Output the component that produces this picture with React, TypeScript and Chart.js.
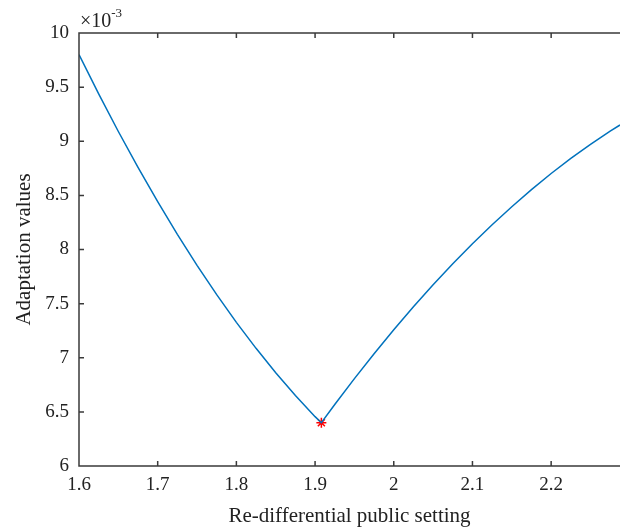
import React, { useEffect, useRef } from "react";
import { Chart, registerables } from "chart.js";

Chart.register(...registerables);

// x values (Re-differential public setting)
const X_VALUES = [
  1.6, 1.625, 1.65, 1.675, 1.7, 1.725, 1.75, 1.775, 1.8, 1.825, 1.85, 1.875, 1.9, 1.908,
  1.925, 1.95, 1.975, 2.0, 2.025, 2.05, 2.075, 2.1, 2.125, 2.15, 2.175, 2.2, 2.225, 2.25, 2.275, 2.2875,
];
// adaptation values, in units of 1e-3
const Y_VALUES = [
  9.8, 9.438, 9.09, 8.759, 8.442, 8.14, 7.854, 7.583, 7.327, 7.087, 6.861, 6.651, 6.456, 6.4,
  6.568, 6.807, 7.037, 7.259, 7.471, 7.674, 7.868, 8.053, 8.229, 8.395, 8.553, 8.702, 8.841, 8.972, 9.094, 9.15,
];
// optimum marker
const MIN_POINT = { x: 1.908, y: 6.4 };

const X_TICKS = [1.6, 1.7, 1.8, 1.9, 2.0, 2.1, 2.2];
const Y_TICKS = [6, 6.5, 7, 7.5, 8, 8.5, 9, 9.5, 10];
const X_MIN = 1.6;
const X_MAX = 2.2875;
const Y_MIN = 6;
const Y_MAX = 10;

const FONT = "'Liberation Serif', 'DejaVu Serif', serif";
const AXIS_COLOR = "#3a3a3a";

const framePlugin = {
  id: "frame",
  afterDraw(chart: any) {
    const { ctx, chartArea } = chart;
    const { left, right, top, bottom } = chartArea;
    const xs = chart.scales.x;
    const ys = chart.scales.y;
    ctx.save();
    ctx.strokeStyle = AXIS_COLOR;
    ctx.lineWidth = 1.5;
    ctx.beginPath();
    ctx.moveTo(right + 1, top);
    ctx.lineTo(left, top);
    ctx.lineTo(left, bottom);
    ctx.lineTo(right + 1, bottom);
    const tl = 5;
    xs.ticks.forEach((t: any) => {
      const px = xs.getPixelForValue(t.value);
      ctx.moveTo(px, bottom);
      ctx.lineTo(px, bottom - tl);
      ctx.moveTo(px, top);
      ctx.lineTo(px, top + tl);
    });
    ys.ticks.forEach((t: any) => {
      const py = ys.getPixelForValue(t.value);
      ctx.moveTo(left, py);
      ctx.lineTo(left + tl, py);
    });
    ctx.stroke();
    // exponent label
    ctx.fillStyle = "#222";
    ctx.font = "20px " + FONT;
    ctx.textBaseline = "alphabetic";
    ctx.textAlign = "left";
    ctx.fillText("\u00d710", left + 1, top - 6);
    const w = ctx.measureText("\u00d710").width;
    ctx.font = "13px " + FONT;
    ctx.fillText("-3", left + 1 + w, top - 16);
    ctx.restore();
  },
};

export default function App() {
  const ref = useRef<HTMLCanvasElement | null>(null);
  useEffect(() => {
    document.body.style.margin = "0";
    const canvas = ref.current;
    if (!canvas) return;
    const lineData = X_VALUES.map((x, i) => ({ x, y: Y_VALUES[i] }));
    const chart = new Chart(canvas, {
      type: "line",
      data: {
        datasets: [
          {
            data: lineData,
            borderColor: "#0072BD",
            borderWidth: 1.5,
            pointRadius: 0,
            tension: 0,
            fill: false,
          },
          {
            data: [MIN_POINT],
            showLine: false,
            pointStyle: "star",
            pointRadius: 5,
            borderColor: "#FF0000",
            backgroundColor: "#FF0000",
            pointBorderWidth: 1.5,
          },
        ],
      },
      options: {
        animation: false,
        responsive: false,
        maintainAspectRatio: false,
        events: [],
        layout: { padding: 0, autoPadding: false },
        plugins: { legend: { display: false }, tooltip: { enabled: false } },
        scales: {
          x: {
            type: "linear",
            min: X_MIN,
            max: X_MAX,
            grid: { display: false, drawTicks: false },
            border: { display: false },
            afterBuildTicks: (s: any) => {
              s.ticks = X_TICKS.map((v) => ({ value: v }));
            },
            afterFit: (s: any) => {
              s.height = 63;
              s.paddingRight = 0;
              s.paddingLeft = 0;
            },
            ticks: {
              autoSkip: false,
              maxRotation: 0,
              padding: 8,
              color: "#222",
              font: { family: FONT, size: 19 },
              callback: (v: any) => String(Math.round(Number(v) * 10) / 10),
            },
            title: {
              display: true,
              text: "Re-differential public setting",
              color: "#222",
              font: { family: FONT, size: 21 },
              padding: { top: 5, bottom: 0 },
            },
          },
          y: {
            type: "linear",
            min: Y_MIN,
            max: Y_MAX,
            grid: { display: false, drawTicks: false },
            border: { display: false },
            afterBuildTicks: (s: any) => {
              s.ticks = Y_TICKS.map((v) => ({ value: v }));
            },
            afterFit: (s: any) => {
              s.width = 79;
              s.paddingTop = 0;
              s.paddingBottom = 0;
            },
            ticks: {
              padding: 10,
              color: "#222",
              font: { family: FONT, size: 19 },
              callback: (v: any) => String(Math.round(Number(v) * 10) / 10),
            },
            title: {
              display: true,
              text: "Adaptation values",
              color: "#222",
              font: { family: FONT, size: 21 },
              padding: { top: 12, bottom: 0 },
            },
          },
          top: {
            type: "linear",
            position: "top",
            display: true,
            grid: { display: false, drawTicks: false },
            border: { display: false },
            ticks: { display: false },
            afterFit: (s: any) => {
              s.height = 33;
              s.paddingRight = 0;
              s.paddingLeft = 0;
            },
          },
        },
      },
      plugins: [framePlugin],
    } as any);
    return () => chart.destroy();
  }, []);
  return <canvas ref={ref} width={620} height={529} style={{ display: "block" }} />;
}
